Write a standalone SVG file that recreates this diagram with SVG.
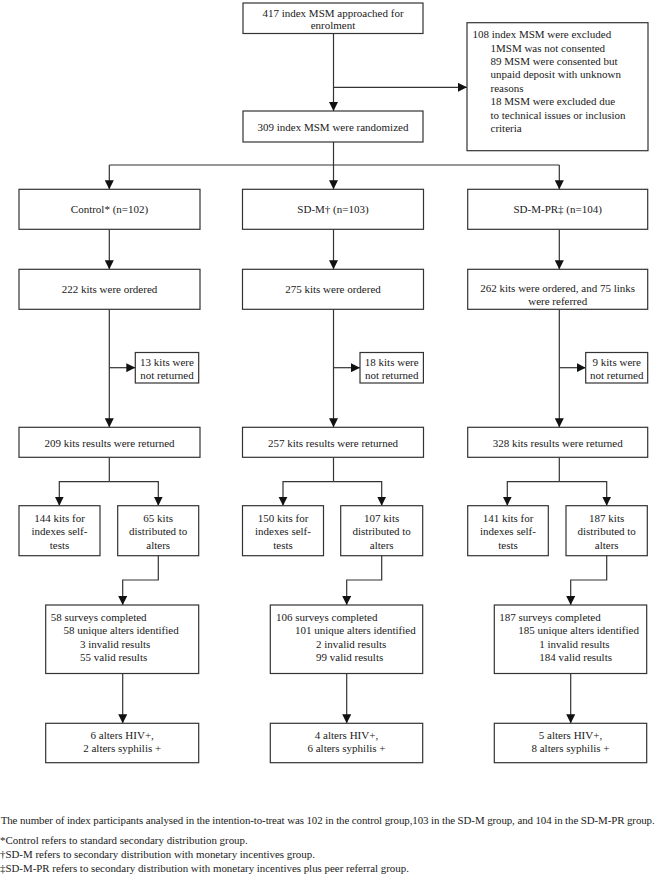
<svg xmlns="http://www.w3.org/2000/svg" width="660" height="874" viewBox="0 0 660 874">
<style>
rect.box{fill:#fff;stroke:#333;stroke-width:1.2}
text{font-family:"Liberation Serif","Times New Roman",serif;font-size:11px;fill:#1a1a1a}
text.c{text-anchor:middle}
text.fn{font-size:10.9px}
.conn path,.conn line{fill:none;stroke:#333;stroke-width:1.2}
.arr{marker-end:url(#ah)}
</style>
<defs>
<marker id="ah" viewBox="0 0 10 10" refX="10" refY="5" markerUnits="userSpaceOnUse" markerWidth="9" markerHeight="9.4" orient="auto">
<path d="M0,0 L10,5 L0,10 z" fill="#111"/>
</marker>
</defs>
<rect width="660" height="874" fill="#fff"/>

<g class="conn">
<line class="arr" x1="333.5" y1="33.5" x2="333.5" y2="111"/>
<line class="arr" x1="333.5" y1="87.3" x2="467" y2="87.3"/>
<line x1="333.5" y1="142" x2="333.5" y2="165"/>
<line x1="109.3" y1="165" x2="559.3" y2="165"/>
<line class="arr" x1="109.3" y1="165" x2="109.3" y2="189.3"/>
<line class="arr" x1="333.5" y1="165" x2="333.5" y2="189.3"/>
<line class="arr" x1="559.3" y1="165" x2="559.3" y2="189.3"/>
<line class="arr" x1="109.3" y1="229.3" x2="109.3" y2="269.3"/>
<line class="arr" x1="333.5" y1="229.3" x2="333.5" y2="269.3"/>
<line class="arr" x1="559.3" y1="229.3" x2="559.3" y2="269.3"/>
<line class="arr" x1="109.3" y1="309.3" x2="109.3" y2="427.3"/>
<line class="arr" x1="333.5" y1="309.3" x2="333.5" y2="427.3"/>
<line class="arr" x1="559.3" y1="309.3" x2="559.3" y2="427.3"/>
<line class="arr" x1="109.3" y1="367.7" x2="135.3" y2="367.7"/>
<line class="arr" x1="333.5" y1="367.7" x2="360" y2="367.7"/>
<line class="arr" x1="559.3" y1="367.7" x2="585.7" y2="367.7"/>
<line x1="109.3" y1="457.3" x2="109.3" y2="481.7"/>
<line x1="333.5" y1="457.3" x2="333.5" y2="481.7"/>
<line x1="559.3" y1="457.3" x2="559.3" y2="481.7"/>
<path class="arr" d="M109.3,481.7 H59.3 V505.7"/>
<path class="arr" d="M109.3,481.7 H158.3 V505.7"/>
<path class="arr" d="M333.5,481.7 H283 V505.7"/>
<path class="arr" d="M333.5,481.7 H381.7 V505.7"/>
<path class="arr" d="M559.3,481.7 H507.3 V505.7"/>
<path class="arr" d="M559.3,481.7 H606.7 V505.7"/>
<path class="arr" d="M158.3,555.7 V580 H122.7 V605"/>
<path class="arr" d="M381.7,555.7 V580 H346.7 V605"/>
<path class="arr" d="M606.7,555.7 V580 H570.7 V605"/>
<line class="arr" x1="122.7" y1="673.5" x2="122.7" y2="723.3"/>
<line class="arr" x1="346.7" y1="673.5" x2="346.7" y2="723.3"/>
<line class="arr" x1="570.7" y1="673.5" x2="570.7" y2="723.3"/>
</g>

<g id="n_approached">
<rect class="box" x="243" y="3" width="180" height="30.5"/>
<text class="c" x="333" y="16.5">417 index MSM approached for</text>
<text class="c" x="333" y="28.8">enrolment</text>
</g>
<g id="n_excluded">
<rect class="box" x="467" y="22.7" width="181" height="128"/>
<text x="472.5" y="38.1">108 index MSM were excluded</text>
<text x="490.5" y="51.5">1MSM was not consented</text>
<text x="490.5" y="64.9">89 MSM were consented but</text>
<text x="490.5" y="78.3">unpaid deposit with unknown</text>
<text x="490.5" y="91.7">reasons</text>
<text x="490.5" y="105.1">18 MSM were excluded due</text>
<text x="490.5" y="118.5">to technical issues or inclusion</text>
<text x="490.5" y="131.9">criteria</text>
</g>
<g id="n_randomized">
<rect class="box" x="243" y="111" width="180" height="31"/>
<text class="c" x="333" y="131">309 index MSM were randomized</text>
</g>

<g id="n_control">
<rect class="box" x="19" y="189.3" width="181" height="40"/>
<text class="c" x="109.5" y="213">Control* (n=102)</text>
</g>
<g id="n_sdm">
<rect class="box" x="242.5" y="189.3" width="181" height="40"/>
<text class="c" x="333" y="213">SD-M† (n=103)</text>
</g>
<g id="n_sdmpr">
<rect class="box" x="467.7" y="189.3" width="180" height="40"/>
<text class="c" x="557.7" y="213">SD-M-PR‡ (n=104)</text>
</g>

<g id="n_ordered_c">
<rect class="box" x="19" y="269.3" width="181" height="40"/>
<text class="c" x="109.5" y="293.1">222 kits were ordered</text>
</g>
<g id="n_ordered_m">
<rect class="box" x="242.5" y="269.3" width="181" height="40"/>
<text class="c" x="333" y="293.1">275 kits were ordered</text>
</g>
<g id="n_ordered_pr">
<rect class="box" x="467.7" y="269.3" width="180" height="40"/>
<text class="c" x="557.7" y="292.1">262 kits were ordered, and 75 links</text>
<text class="c" x="557.7" y="305.1">were referred</text>
</g>

<g id="n_notret_c">
<rect class="box" x="135.3" y="352.5" width="63.4" height="30.5"/>
<text class="c" x="167" y="366.1">13 kits were</text>
<text class="c" x="167" y="378.8">not returned</text>
</g>
<g id="n_notret_m">
<rect class="box" x="360" y="352.5" width="63.4" height="30.5"/>
<text class="c" x="391.7" y="366.1">18 kits were</text>
<text class="c" x="391.7" y="378.8">not returned</text>
</g>
<g id="n_notret_pr">
<rect class="box" x="585.7" y="352.5" width="62" height="30.5"/>
<text class="c" x="616.7" y="366.1">9 kits were</text>
<text class="c" x="616.7" y="378.8">not returned</text>
</g>

<g id="n_returned_c">
<rect class="box" x="19" y="427.3" width="181" height="30"/>
<text class="c" x="109.5" y="447.1">209 kits results were returned</text>
</g>
<g id="n_returned_m">
<rect class="box" x="242.5" y="427.3" width="181" height="30"/>
<text class="c" x="333" y="447.1">257 kits results were returned</text>
</g>
<g id="n_returned_pr">
<rect class="box" x="467.7" y="427.3" width="180" height="30"/>
<text class="c" x="557.7" y="447.1">328 kits results were returned</text>
</g>

<g id="n_self_c">
<rect class="box" x="19" y="505.7" width="81" height="50"/>
<text class="c" x="59.5" y="521.5">144 kits for</text>
<text class="c" x="59.5" y="535">indexes self-</text>
<text class="c" x="59.5" y="548.5">tests</text>
</g>
<g id="n_alters_c">
<rect class="box" x="117.7" y="505.7" width="81" height="50"/>
<text class="c" x="158.2" y="521.5">65 kits</text>
<text class="c" x="158.2" y="535">distributed to</text>
<text class="c" x="158.2" y="548.5">alters</text>
</g>
<g id="n_self_m">
<rect class="box" x="242.5" y="505.7" width="81" height="50"/>
<text class="c" x="283" y="521.5">150 kits for</text>
<text class="c" x="283" y="535">indexes self-</text>
<text class="c" x="283" y="548.5">tests</text>
</g>
<g id="n_alters_m">
<rect class="box" x="340.7" y="505.7" width="82" height="50"/>
<text class="c" x="381.7" y="521.5">107 kits</text>
<text class="c" x="381.7" y="535">distributed to</text>
<text class="c" x="381.7" y="548.5">alters</text>
</g>
<g id="n_self_pr">
<rect class="box" x="467.7" y="505.7" width="80.6" height="50"/>
<text class="c" x="508" y="521.5">141 kits for</text>
<text class="c" x="508" y="535">indexes self-</text>
<text class="c" x="508" y="548.5">tests</text>
</g>
<g id="n_alters_pr">
<rect class="box" x="566" y="505.7" width="81.3" height="50"/>
<text class="c" x="606.7" y="521.5">187 kits</text>
<text class="c" x="606.7" y="535">distributed to</text>
<text class="c" x="606.7" y="548.5">alters</text>
</g>

<g id="n_surveys_c">
<rect class="box" x="45.7" y="605" width="153" height="68.5"/>
<text x="50.7" y="620.5">58 surveys completed</text>
<text x="63.5" y="634">58 unique alters identified</text>
<text x="80" y="647.5">3 invalid results</text>
<text x="80" y="660.8">55 valid results</text>
</g>
<g id="n_surveys_m">
<rect class="box" x="270.3" y="605" width="152.4" height="68.5"/>
<text x="276" y="620.5">106 surveys completed</text>
<text x="295" y="634">101 unique alters identified</text>
<text x="316" y="647.5">2 invalid results</text>
<text x="316" y="660.8">99 valid results</text>
</g>
<g id="n_surveys_pr">
<rect class="box" x="494.3" y="605" width="152.4" height="68.5"/>
<text x="499.3" y="620.5">187 surveys completed</text>
<text x="518.3" y="634">185 unique alters identified</text>
<text x="539.3" y="647.5">1 invalid results</text>
<text x="539.3" y="660.8">184 valid results</text>
</g>

<g id="n_hiv_c">
<rect class="box" x="45.7" y="723.3" width="153" height="39.4"/>
<text class="c" x="122.2" y="739.1">6 alters HIV+,</text>
<text class="c" x="122.2" y="752.1">2 alters syphilis +</text>
</g>
<g id="n_hiv_m">
<rect class="box" x="270.3" y="723.3" width="152.4" height="39.4"/>
<text class="c" x="346.5" y="739.1">4 alters HIV+,</text>
<text class="c" x="346.5" y="752.1">6 alters syphilis +</text>
</g>
<g id="n_hiv_pr">
<rect class="box" x="494.3" y="723.3" width="152.4" height="39.4"/>
<text class="c" x="570.5" y="739.1">5 alters HIV+,</text>
<text class="c" x="570.5" y="752.1">8 alters syphilis +</text>
</g>

<g id="footnotes">
<text class="fn" x="0.7" y="823.7" textLength="654" lengthAdjust="spacing">The number of index participants analysed in the intention-to-treat was 102 in the control group,103 in the SD-M group, and 104 in the SD-M-PR group.</text>
<text class="fn" x="0" y="844.4">*Control refers to standard secondary distribution group.</text>
<text class="fn" x="0" y="858.4">†SD-M refers to secondary distribution with monetary incentives group.</text>
<text class="fn" x="0" y="872">‡SD-M-PR refers to secondary distribution with monetary incentives plus peer referral group.</text>
</g>
</svg>
